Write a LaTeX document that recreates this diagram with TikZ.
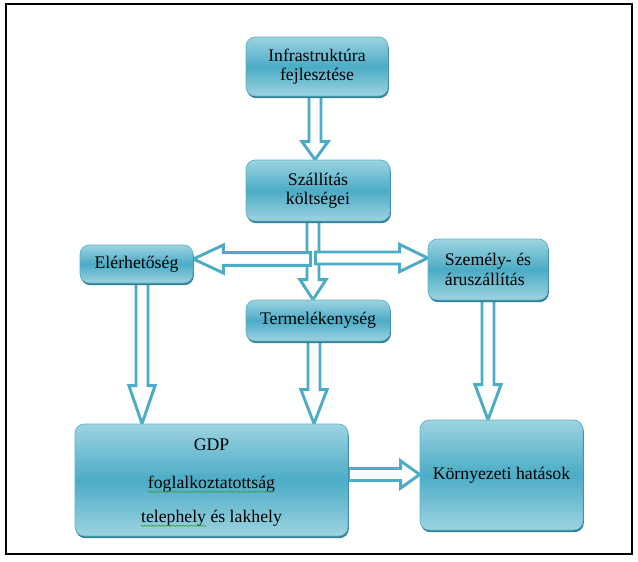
\documentclass[tikz,border=0pt]{standalone}
\usepackage{fontspec}
\setmainfont{Liberation Serif}
\newfontfamily\tnr{Liberation Serif}
\usetikzlibrary{calc,shadows,decorations.pathmorphing}
\definecolor{boxlight}{HTML}{9DD3E1}
\definecolor{boxmid}{HTML}{4BACC6}
\definecolor{boxedge}{HTML}{5DB3C9}
\definecolor{shadowcol}{HTML}{2F7E93}
\definecolor{arrowcol}{HTML}{4BACC6}
\definecolor{squigcol}{HTML}{3BA03B}
\pgfdeclarelayer{bg}
\pgfsetlayers{bg,main}
% block arrows: #1 start, #2 end, #3 head length
\newcommand\blkdown[3]{\draw[blk] let \p1=#1, \p2=#2 in
 (\x1-4.5pt,\y1) -- (\x1-4.5pt,\y2+#3) -- (\x1-9.8pt,\y2+#3) -- (\x1,\y2)
 -- (\x1+9.8pt,\y2+#3) -- (\x1+4.5pt,\y2+#3) -- (\x1+4.5pt,\y1) -- cycle;}
\newcommand\blkleft[3]{\draw[blk] let \p1=#1, \p2=#2 in
 (\x1,\y1+4.8pt) -- (\x2+#3,\y1+4.8pt) -- (\x2+#3,\y1+10.5pt) -- (\x2,\y1)
 -- (\x2+#3,\y1-10.5pt) -- (\x2+#3,\y1-4.8pt) -- (\x1,\y1-4.8pt) -- cycle;}
\newcommand\blkright[3]{\draw[blk] let \p1=#1, \p2=#2 in
 (\x1,\y1+4.5pt) -- (\x2-#3,\y1+4.5pt) -- (\x2-#3,\y1+10.2pt) -- (\x2,\y1)
 -- (\x2-#3,\y1-10.2pt) -- (\x2-#3,\y1-4.5pt) -- (\x1,\y1-4.5pt) -- cycle;}
\begin{document}
\begin{tikzpicture}[x=0.75pt,y=-0.75pt,
  font=\tnr\fontsize{13.3}{14.6}\selectfont,
  box/.style={rounded corners=7pt, top color=boxlight, bottom color=boxlight,
    middle color=boxmid, draw=boxedge, line width=0.5pt,
    drop shadow={shadow xshift=0.6pt, shadow yshift=-1.6pt, fill=shadowcol, opacity=1},
    inner sep=0pt, align=center},
  blk/.style={draw=arrowcol, line width=2.2pt, fill=white, line join=miter},
  lbl/.style={inner sep=0pt, align=center},
  squig/.style={decorate, decoration={snake, amplitude=0.45pt, segment length=2.2pt},
    draw=squigcol, line width=0.45pt},
  frame/.style={draw=black, line width=1.2pt}]
\useasboundingbox (0,0) rectangle (638,561);
\draw[frame] (6,4) rectangle (632,554);

\node[box, minimum width=106.5pt, minimum height=44.25pt] (infra) at (317,66.5) {Infrastruktúra\\fejlesztése};
\node[box, minimum width=108pt, minimum height=45.75pt] (szall) at (318,190.5) {Szállítás\\költségei};
\node[box, minimum width=84.75pt, minimum height=28.5pt] (eler) at (136.5,264) {Elérhetőség};
\node[box, minimum width=90pt, minimum height=45.75pt, align=left] (szem) at (488,269.5) {Személy- és\\áruszállítás};
\node[box, minimum width=108pt, minimum height=30.75pt] (term) at (318,320.5) {Termelékenység};
\node[box, minimum width=204.75pt, minimum height=84pt] (gdp) at (211.5,480) {};
\node[box, minimum width=122.25pt, minimum height=82.5pt] (korny) at (501.5,475) {Környezeti hatások};

\node[lbl] (gdp1) at (211.5,445) {GDP};
\node[lbl] (gdp2) at (211.5,484) {foglalkoztatottság};
\node[lbl] (gdp3) at (211.5,518) {telephely és lakhely};
\node[lbl, anchor=base west] (tp) at (gdp3.base west) {\phantom{telephely}};
\draw[squig] ($(gdp2.base west)+(0,3.5)$) -- ($(gdp2.base east)+(0,3.5)$);
\draw[squig] ($(tp.base west)+(0,3.5)$) -- ($(tp.base east)+(0,3.5)$);

\coordinate (hub) at (312.5,259);

\begin{pgfonlayer}{bg}
\blkdown{($(infra.south)+(-2,0)$)}{(szall.north)}{13.5pt}
\blkdown{($(szall.south)+(-5,0)$)}{(term.north)}{15pt}
\blkleft{($(hub)+(-2,0)$)}{(eler.east)}{22.5pt}
\blkright{($(hub)+(3,-1)$)}{(szem.west)}{21pt}
\blkdown{($(eler.south)+(5.5,0)$)}{(gdp.north)}{28.5pt}
\blkdown{($(term.south)+(-4,0)$)}{(gdp.north)}{25.5pt}
\blkdown{(szem.south)}{(korny.north)}{26.25pt}
\blkright{($(gdp.east)+(0,-5.5)$)}{(korny.west)}{14.25pt}
\end{pgfonlayer}
\end{tikzpicture}
\end{document}
